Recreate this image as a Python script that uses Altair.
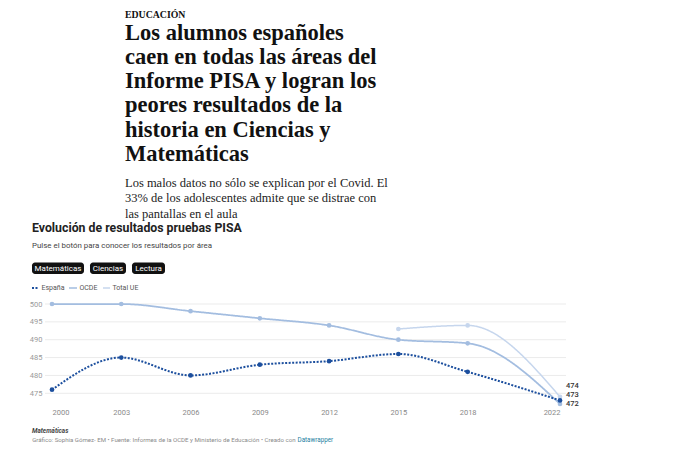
import altair as alt
import pandas as pd

# ---------------- data ----------------
years = [2000, 2003, 2006, 2009, 2012, 2015, 2018, 2022]
espana = [476, 485, 480, 483, 484, 486, 481, 473]
ocde = [500, 500, 498, 496, 494, 490, 489, 472]
ue_years = [2015, 2018, 2022]
total_ue = [493, 494, 474]
series = ["España", "OCDE", "Total UE"]
y_ticks = [475, 480, 485, 490, 495, 500]
buttons = ["Matemáticas", "Ciencias", "Lectura"]

kicker = "EDUCACIÓN"
headline = [
    "Los alumnos españoles",
    "caen en todas las áreas del",
    "Informe PISA y logran los",
    "peores resultados de la",
    "historia en Ciencias y",
    "Matemáticas",
]
dek = [
    "Los malos datos no sólo se explican por el Covid. El",
    "33% de los adolescentes admite que se distrae con",
    "las pantallas en el aula",
]
chart_title = "Evolución de resultados pruebas PISA"
chart_sub = "Pulse el botón para conocer los resultados por área"
footer_note = "Matemáticas"
footer_src = "Gráfico: Sophia Gómez- EM • Fuente: Informes de la OCDE y Ministerio de Educación • Creado con"
footer_link = "Datawrapper"

rows = []
for yr, v in zip(ue_years, total_ue):
    rows.append({"year": yr, "value": v, "serie": "Total UE"})
for yr, v in zip(years, ocde):
    rows.append({"year": yr, "value": v, "serie": "OCDE"})
for yr, v in zip(years, espana):
    rows.append({"year": yr, "value": v, "serie": "España"})
df = pd.DataFrame(rows)
grid_df = pd.DataFrame({"value": y_ticks})

# ---------------- layout ----------------
W, H = 508, 100
FONT = "Roboto"
colors = ["#1c4f9e", "#a3bde0", "#c6d6ed"]
dashes = [[2, 1.5], [1, 0], [1, 0]]
widths = [2, 1.5, 1.5]
one = alt.Data(values=[{"k": 1}])

xs = alt.Scale(domain=[2000, 2022], nice=False)
ys = alt.Scale(domain=[472, 500], nice=False, zero=False)
x_enc = alt.X("year:Q", scale=xs, axis=alt.Axis(
    values=years, format="d", title=None, domain=False, ticks=False, grid=False,
    labelPadding=4, labelColor="#8a8a8a", labelFontSize=7.5, labelFont=FONT))
y_enc = alt.Y("value:Q", scale=ys, axis=alt.Axis(
    values=y_ticks, title=None, domain=False, ticks=False, grid=False,
    labelPadding=10, labelColor="#9a9a9a", labelFontSize=7.5, labelFont=FONT))

color_enc = alt.Color("serie:N", scale=alt.Scale(domain=series, range=colors), legend=None)
dash_enc = alt.StrokeDash("serie:N", scale=alt.Scale(domain=series, range=dashes), legend=None)
width_enc = alt.StrokeWidth("serie:N", scale=alt.Scale(domain=series, range=widths), legend=None)

grid = alt.Chart(grid_df).mark_rule(color="#ebebeb", strokeWidth=1).encode(
    y=y_enc, x=alt.value(-7), x2=alt.value(W + 6))

lines = alt.Chart(df).mark_line(interpolate="monotone").encode(
    x=x_enc, y=y_enc, color=color_enc, strokeDash=dash_enc, strokeWidth=width_enc, detail="serie:N")

points = alt.Chart(df).mark_circle(size=22, opacity=1).encode(
    x=x_enc, y=y_enc, color=color_enc)

end_layers = []
for s, dy in [("Total UE", -11), ("España", -5.5), ("OCDE", 0)]:
    end_layers.append(
        alt.Chart(df).transform_filter((alt.datum.year == 2022) & (alt.datum.serie == s))
        .mark_text(align="left", baseline="middle", dx=6, dy=dy, fontSize=7.5, font=FONT,
                   fontWeight=500, color="#333")
        .encode(x=x_enc, y=y_enc, text="value:Q"))


def txt(text, x, y, align="left", baseline="alphabetic", **kw):
    return alt.Chart(one).mark_text(text=text, align=align, baseline=baseline, **kw).encode(
        x=alt.value(x), y=alt.value(y))


texts = [
    txt(kicker, 73, -286.5, font="Liberation Sans Narrow", fontWeight="bold", fontSize=9.8, color="#111"),
    txt(headline, 73, -264.5, font="Liberation Serif", fontWeight="bold", fontSize=22.5, lineHeight=24.3, color="#111"),
    txt(dek, 73, -117, font="Liberation Serif", fontSize=12.5, lineHeight=15.3, color="#222"),
    txt(chart_title, -20, -72, font=FONT, fontWeight="bold", fontSize=12.3, color="#222"),
    txt(chart_sub, -20, -55.7, font=FONT, fontSize=7.9, color="#444"),
    txt(footer_note, -20, 128.5, font=FONT, fontWeight="bold", fontStyle="italic", fontSize=6.4, color="#444"),
    txt(footer_src, 243.5, 138.3, align="right", font=FONT, fontSize=6.1, color="#8a8a8a"),
    txt(footer_link, 245.5, 138.3, font=FONT, fontSize=6.3, color="#1d81a2"),
]

# buttons
button_spans = [(-20, 32), (38, 74), (80, 113)]
btns = []
for label, (x0, x1) in zip(buttons, button_spans):
    btns.append(alt.Chart(one).mark_rect(color="#111", cornerRadius=3).encode(
        x=alt.value(x0), x2=alt.value(x1), y=alt.value(-41.5), y2=alt.value(-30)))
    btns.append(alt.Chart(one).mark_text(text=label, align="center", baseline="middle", font=FONT,
                                         fontSize=8, color="#fff").encode(
        x=alt.value((x0 + x1) / 2), y=alt.value(-35.5)))

# legend (drawn by hand so it sits like the original)
legend_swatch_x = [(-20, -13), (17, 25), (51, 58)]
LEG_Y = -16
legend = []
for s, c, d, w, (x0, x1) in zip(series, colors, dashes, widths, legend_swatch_x):
    legend.append(alt.Chart(one).mark_rule(color=c, strokeDash=d, strokeWidth=w).encode(
        x=alt.value(x0), x2=alt.value(x1), y=alt.value(LEG_Y)))
    legend.append(txt(s, x1 + 2.5, LEG_Y, baseline="middle", font=FONT, fontSize=7, color="#555"))

chart = alt.layer(grid, lines, points, *end_layers, *texts, *btns, *legend).properties(
    width=W, height=H,
    autosize=alt.AutoSizeParams(type="none"),
    padding={"left": 44, "top": 296, "right": 122, "bottom": 42},
).configure_view(stroke=None)

chart.save("out.html", embed_options={"renderer": "svg", "actions": False})
